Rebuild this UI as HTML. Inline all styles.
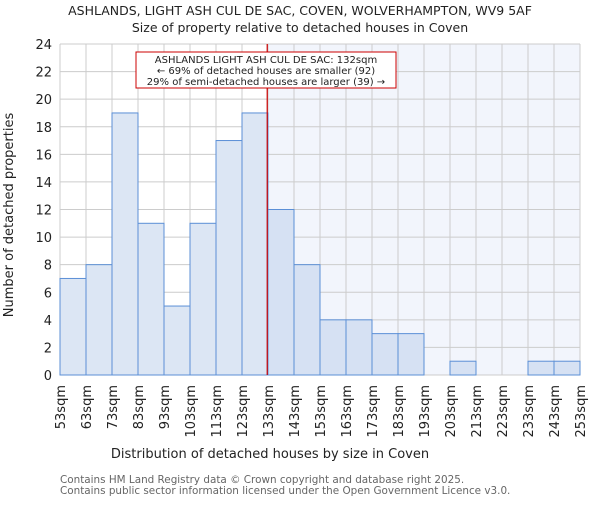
<!DOCTYPE html>
<html><head><meta charset="utf-8"><style>
body{margin:0;background:#fff}
svg text{font-family:"DejaVu Sans","Liberation Sans",sans-serif}
</style></head><body>
<svg id="c" width="600" height="500" xmlns="http://www.w3.org/2000/svg">
<text x="300" y="15" text-anchor="middle" font-size="12.5" fill="#222">ASHLANDS, LIGHT ASH CUL DE SAC, COVEN, WOLVERHAMPTON, WV9 5AF</text>
<text x="300" y="32" text-anchor="middle" font-size="12.5" fill="#222">Size of property relative to detached houses in Coven</text>
<g id="plot"></g>
<text x="270" y="458" text-anchor="middle" font-size="13" fill="#222">Distribution of detached houses by size in Coven</text>
<text transform="translate(13,215) rotate(-90)" text-anchor="middle" font-size="13" fill="#222">Number of detached properties</text>
<text x="60" y="483" font-size="10.4" fill="#666">Contains HM Land Registry data © Crown copyright and database right 2025.</text>
<text x="60" y="494" font-size="10.4" fill="#666">Contains public sector information licensed under the Open Government Licence v3.0.</text>
</svg>
<script>
const binStarts=[53,63,73,83,93,103,113,123,133,143,153,163,173,183,193,203,213,223,233,243];
const counts=[7,8,19,11,5,11,17,19,12,8,4,4,3,3,0,1,0,0,1,1];
const xTickLabels=["53sqm","63sqm","73sqm","83sqm","93sqm","103sqm","113sqm","123sqm","133sqm","143sqm","153sqm","163sqm","173sqm","183sqm","193sqm","203sqm","213sqm","223sqm","233sqm","243sqm","253sqm"];
const yTicks=[0,2,4,6,8,10,12,14,16,18,20,22,24];
const propertySize=132;
const markerPos=132.7;
const NS="http://www.w3.org/2000/svg";
const L=60,R=580,T=44,B=375,xmin=53,xmax=253,ymax=24;
const x=v=>L+(v-xmin)/(xmax-xmin)*(R-L);
const y=v=>B-v/ymax*(B-T);
const g=document.getElementById('plot');
function mk(tag,at){const e=document.createElementNS(NS,tag);for(const k in at)e.setAttribute(k,at[k]);g.appendChild(e);return e;}
const px=x(markerPos);
let e=mk('rect',{x:px,y:T,width:R-px,height:B-T,fill:'#f2f5fc'});


yTicks.forEach(t=>{let l=mk('line',{x1:L,x2:R,y1:y(t),y2:y(t),stroke:'#ccc','stroke-width':1});


let tx=mk('text',{x:L-8,y:y(t)+5,'text-anchor':'end','font-size':13,fill:'#222'});tx.textContent=t;

});
xTickLabels.forEach((s,i)=>{const v=xmin+i*10;let l=mk('line',{x1:x(v),x2:x(v),y1:T,y2:B,stroke:'#ccc','stroke-width':1});


let tx=mk('text',{transform:`translate(${x(v)+5},385) rotate(-90)`,'text-anchor':'end','font-size':13,fill:'#222'});tx.textContent=s;

});
counts.forEach((c,i)=>{if(!c)return;const x0=x(binStarts[i]),x1=x(binStarts[i]+10);
let r=mk('rect',{x:x0,y:y(c),width:x1-x0,height:B-y(c),fill:binStarts[i]>=propertySize?'#d6e1f3':'#dce6f4',stroke:'#5b8fd6','stroke-width':1});

});
let rl=mk('line',{x1:px,x2:px,y1:T,y2:B,stroke:'#c00','stroke-width':1.2});


let bx=mk('rect',{x:136,y:52,width:260,height:36,fill:'#fff',stroke:'#c00','stroke-width':1});


["ASHLANDS LIGHT ASH CUL DE SAC: "+propertySize+"sqm","← 69% of detached houses are smaller (92)","29% of semi-detached houses are larger (39) →"].forEach((s,i)=>{
let tx=mk('text',{x:266,y:63+i*11,'text-anchor':'middle','font-size':10,fill:'#222'});tx.textContent=s;

});
</script>
</body></html>
